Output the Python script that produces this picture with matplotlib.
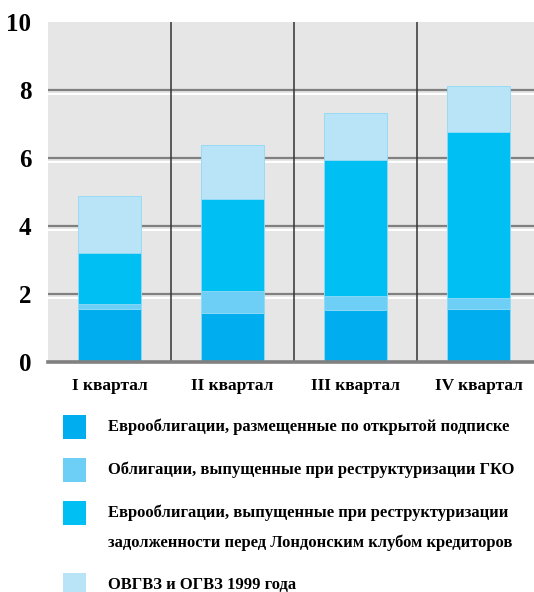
import matplotlib
matplotlib.use("Agg")
import matplotlib.pyplot as plt
from matplotlib.patches import Rectangle
from matplotlib import transforms, font_manager

# Data: debt instruments by quarter, stacked
quarters = ["I квартал", "II квартал", "III квартал", "IV квартал"]
euro_open = [1.55, 1.43, 1.51, 1.55]
gko_restr = [0.15, 0.66, 0.41, 0.32]
london_club = [1.50, 2.70, 4.01, 4.88]
ovgvz = [1.68, 1.57, 1.38, 1.36]
yticks = [0, 2, 4, 6, 8, 10]

series_labels = [
    "Еврооблигации, размещенные по открытой подписке",
    "Облигации, выпущенные при реструктуризации ГКО",
    "Еврооблигации, выпущенные при реструктуризации\nзадолженности перед Лондонским клубом кредиторов",
    "ОВГВЗ и ОГВЗ 1999 года",
]
colors = ["#00adee", "#6dcff6", "#00bff3", "#b9e4f8"]

# Pick a condensed bold serif if available
available = {f.name for f in font_manager.fontManager.ttflist}
family = [f for f in ["DejaVu Serif Condensed", "Liberation Serif", "DejaVu Serif"] if f in available]
plt.rcParams["font.family"] = family

W, H = 534, 592
fig = plt.figure(figsize=(W / 100, H / 100), dpi=100)

# Plot area in pixels: left 48, right beyond edge, y=0 at 361.7, y=10 at 21.7
x0, x1 = 48, 540
y0, y1 = 361.7, 21.7
ax = fig.add_axes([x0 / W, 1 - y0 / H, (x1 - x0) / W, (y0 - y1) / H])
ax.set_facecolor("#e6e6e6")
ax.set_xlim(-0.5, 3.5)
ax.set_ylim(0, 10)
for s in ax.spines.values():
    s.set_visible(False)

# Embossed horizontal gridlines
shift = transforms.offset_copy(ax.transData, fig=fig, x=0, y=-4, units="dots")
for v in yticks[1:-1]:
    ax.axhline(v, color="#808080", lw=1.6, zorder=1)
    ax.plot([-0.5, 3.5], [v, v], color="white", lw=1.4, zorder=1, transform=shift)

# Quarter separators
for xv in [0.5, 1.5, 2.5]:
    ax.axvline(xv, color="#333333", lw=1.1, zorder=1)

# Stacked bars
xs = list(range(len(quarters)))
bottom = [0.0] * len(quarters)
for vals, c in zip([euro_open, gko_restr, london_club, ovgvz], colors):
    ax.bar(xs, vals, width=0.516, bottom=bottom, color=c,
           edgecolor="#8fdaf7", linewidth=0.6, zorder=2)
    bottom = [b + v for b, v in zip(bottom, vals)]

# Baseline
ax.axhline(0, color="#808080", lw=2.6, zorder=3, clip_on=False)

ax.set_yticks(yticks)
ax.set_yticklabels([str(t) for t in yticks], fontsize=18, fontweight="bold")
ax.set_xticks(xs)
ax.set_xticklabels(quarters, fontsize=12.5, fontweight="bold")
ax.tick_params(axis="y", length=0, pad=12)
ax.tick_params(axis="x", length=0, pad=12)

# Legend drawn below the chart
def fx(px):
    return px / W

def fy(py):
    return 1 - py / H

legend_rows = [(415, [427]), (458, [470]), (501, [513, 543]), (573, [585])]
for (top, text_ys), lab, c in zip(legend_rows, series_labels, colors):
    fig.patches.append(Rectangle((fx(62.7), fy(top + 24)), fx(23.3), 24 / H,
                                 transform=fig.transFigure, facecolor=c,
                                 edgecolor="none"))
    for line, ty in zip(lab.split("\n"), text_ys):
        fig.text(fx(108), fy(ty), line, fontsize=11.9, fontweight="bold",
                 va="center", ha="left")

fig.savefig("out.png", dpi=100)
